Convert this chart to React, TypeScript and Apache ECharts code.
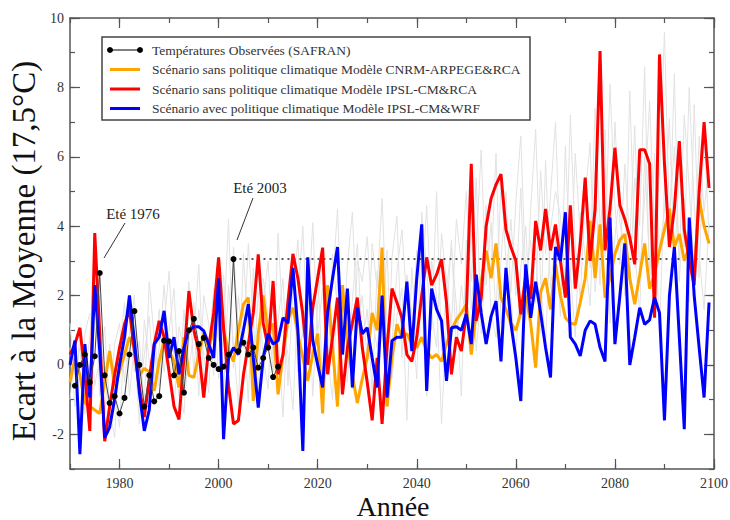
import React, { useEffect, useRef } from "react";
import * as echarts from "echarts";

const START_YEAR = 1970;
const OBS_START = 1971;

const observed = [-0.6, 0.0, 0.3, -0.5, 0.25, 2.65, -0.3, -1.1, -0.9, -1.4, -0.95, 0.3, 1.55, 0.0, -1.2, -0.3, -1.05, -0.9, 0.7, 0.68, -0.3, 0.4, -0.8, 1.0, 1.33, 0.6, 0.78, 0.2, 0.0, -0.12, -0.05, 0.3, 3.05, 0.4, 0.64, 0.3, 0.5, -0.08, 0.2, 0.5, -0.35, -0.05];

const cnrmNoPolicy = [
  -0.5, 0.2, -0.3, -1.1, -1.2, -1.3, -1.4, -0.5, 0.4, -0.6,
  -0.2, 0.3, 0.8, 0.5, -0.3, -0.1, -0.2, -0.75, 0.1, 0.7,
  0.4, 0.1, -0.65, 0.8, -0.3, -0.36, 0.3, 0.9, 0.5, 0.98,
  2.9, 1.0, 0.4, 0.1, 1.0, 1.75, 1.94, -1.04, 0.9, 2.0,
  0.9, 1.2, -0.85, 0.3, 1.3, 1.65, 0.9, 0.2, -0.46, 0.3,
  0.9, -1.4, 2.3, 0.5, -1.2, 2.3, 0.6, -0.3, -1.1, -0.4,
  0.2, 1.5, 1.0, 3.38, -1.2, 0.2, 1.17, 0.8, 0.9, 0.6,
  0.5, 0.8, 0.4, 0.2, 0.3, 0.1, 0.6, 1.0, 1.3, 1.5,
  1.75, 0.3, 1.5, 2.4, 3.3, 2.5, 3.5, 1.94, 1.6, 1.2,
  1.0, 1.5, 2.0, 1.2, -0.08, 2.1, 2.5, 1.6, 2.9, 2.0,
  1.36, 1.2, 1.17, 1.8, 2.5, 4.15, 2.5, 4.05, 1.94, 2.5,
  3.2, 3.6, 3.77, 2.5, 1.75, 2.6, 3.5, 2.2, 2.6, 3.3,
  3.9, 4.5, 3.4, 3.77, 3.0, 3.4, 2.6, 4.8, 4.0, 3.5,
];

const ipslRcaNoPolicy = [
  0.3, 0.6, 1.07, -0.27, -1.9, 3.8, 0.9, -2.2, -1.2, -0.3,
  0.5, 1.17, 1.6, 0.4, -0.65, -1.5, -0.4, 0.6, 1.27, 0.8,
  -0.2, -1.2, -1.57, 0.2, 2.13, 1.0, 0.4, -0.94, 0.5, 1.5,
  3.1, 1.07, -0.6, -1.7, -1.6, -0.3, 0.6, 1.5, 3.19, 1.2,
  0.5, 2.42, -0.27, 0.3, 1.84, 3.2, 2.5, 1.46, 0.0, 1.65,
  2.5, 3.38, -0.27, 0.8, 1.94, -0.85, 0.5, 1.2, 1.94, 0.5,
  -0.5, -1.6, 0.2, -1.7, 0.5, 2.2, 1.8, 1.36, 0.3, 0.1,
  0.8, 2.0, 3.1, 2.3, 2.6, 3.05, 1.8, -0.27, 0.8, 0.4,
  1.5, 5.8, 1.27, 1.9, 4.0, 4.8, 5.2, 5.5, 3.9, 3.4,
  3.0, 1.46, 2.6, 1.9, 4.15, 3.3, 4.5, 3.3, 4.05, 3.0,
  1.94, 4.6, 2.2, 3.5, 5.4, 3.0, 4.5, 9.05, 3.3, 4.5,
  6.26, 4.6, 4.2, 3.67, 2.9, 6.2, 6.2, 5.8, 1.36, 8.95,
  5.8, 3.4, 4.5, 6.45, 3.9, 3.0, 2.3, 5.0, 7.0, 5.1,
];

const ipslWrfPolicy = [
  0.0, 0.7, -2.57, 0.6, -0.94, 2.3, 0.4, -2.1, -1.8, -1.0,
  0.0, 0.8, 2.0, 0.7, -0.8, -1.9, -1.3, 0.6, 0.8, 1.56,
  0.2, 0.8, -0.27, 0.5, 1.0, 1.1, 1.1, 0.98, 0.6, 0.2,
  2.5, -2.14, 0.2, 0.5, 0.3, 1.0, 1.75, 0.2, -1.23, 0.2,
  0.9, 0.6, 0.7, 1.36, 1.2, 2.8, 1.0, -2.48, 3.1, 0.7,
  0.0, -0.65, 1.5, 2.5, 3.4, 0.3, 2.2, -0.65, 1.65, 0.9,
  1.07, 0.2, -0.65, 2.0, -0.94, 0.7, 0.8, 0.8, 2.4, 0.4,
  2.5, 4.05, -0.75, 2.2, 1.6, 1.27, -0.46, 1.07, 1.1, 1.0,
  1.46, 0.6, 2.6, 1.5, 0.6, 1.4, 1.84, 0.1, 2.8, 1.2,
  0.2, -1.04, 2.9, 1.36, 2.4, 1.5, 0.5, -0.36, 3.4, 3.0,
  4.4, 0.8, 0.6, 0.26, 1.0, 1.27, 1.17, 0.5, 0.1, 4.25,
  0.6, 2.0, 3.5, 0.0, 0.8, 1.65, 1.17, 1.3, 1.94, 1.5,
  -1.6, 2.0, 3.4, 0.8, -1.85, 4.25, 2.0, 0.5, -0.94, 1.8,
];

const ensembleA = [
  0.5, -1.2, 1.0, -0.4, 0.8, 2.2, -0.9, 0.1, -1.6, 0.6,
  1.2, -0.5, 0.9, 2.0, -1.0, 0.3, 1.4, -0.7, 0.5, 2.3,
  0.0, -1.3, 1.1, 0.4, 2.4, -0.2, 1.6, 0.3, -0.8, 1.9,
  0.7, 2.6, -0.5, 3.4, 0.9, 1.5, -1.1, 2.8, 0.4, 1.8,
  3.0, 0.2, 1.3, 2.5, -0.6, 2.1, 3.6, 0.8, 1.4, 4.1,
  0.9, 2.2, -0.3, 3.2, 1.6, 0.4, 2.9, 4.4, 1.0, 2.0,
  0.1, 3.5, 2.2, 4.8, 1.2, 0.6, 2.7, 3.9, 1.8, 0.9,
  3.3, 2.1, 4.6, 1.5, 0.5, 3.8, 2.4, 1.1, 4.2, 2.9,
  5.0, 1.6, 3.4, 6.2, 2.3, 4.1, 1.4, 5.3, 3.0, 2.1,
  4.7, 6.6, 2.5, 3.6, 1.8, 5.6, 3.2, 4.9, 7.0, 2.9,
  4.3, 2.4, 6.1, 3.7, 5.2, 2.8, 7.4, 4.0, 3.1, 8.1,
  4.6, 2.9, 5.8, 3.5, 6.9, 2.6, 4.8, 7.6, 3.9, 5.5,
  9.6, 4.2, 6.3, 3.0, 7.2, 5.1, 2.7, 6.6, 4.4, 5.9,
];

const ensembleB = [
  -1.0, 0.4, -2.0, 0.9, 1.5, -0.6, 0.2, 1.1, -1.2, -2.1,
  0.3, 1.8, -0.9, 0.6, -1.7, 1.3, 0.1, -0.4, 1.6, -0.2,
  1.0, 2.2, -0.5, -1.4, 0.7, 1.8, -0.9, 2.0, 1.2, -0.3,
  1.5, -0.8, 2.3, 0.6, -1.2, 3.2, 0.8, -0.4, 2.1, 0.2,
  -0.7, 2.4, 0.9, -1.5, 1.7, 3.0, -0.2, 1.1, 2.6, -0.9,
  1.8, 3.1, 0.3, -1.0, 2.5, 1.2, -0.5, 1.9, 3.5, 0.6,
  1.6, -0.8, 2.7, 1.0, 3.3, -0.4, 1.4, 2.2, -1.6, 2.8,
  0.7, 1.9, -0.9, 3.0, 2.0, -1.7, 1.3, 3.6, 0.5, 2.3,
  1.2, 3.9, 0.4, 2.1, 4.6, 1.5, 0.8, 3.0, 5.0, 1.9,
  0.3, 2.8, 4.0, 1.1, 3.4, 0.9, 5.9, 2.2, 3.6, 1.4,
  6.3, 2.7, 0.8, 4.4, 3.1, 1.7, 5.5, 2.3, 6.8, 1.2,
  3.7, 5.0, 2.0, 7.9, 3.3, 1.5, 6.0, 2.8, 4.5, 0.9,
  5.2, 3.6, 8.4, 2.4, 4.8, 1.8, 7.5, 3.2, 1.6, 4.1,
];

const ensembleC = [
  1.2, -0.3, 0.5, -1.4, 0.0, 1.1, 2.0, -1.5, 0.6, -0.8,
  -1.8, 0.9, 1.5, -0.2, 0.7, -1.1, 2.4, 0.8, -0.6, 1.2,
  2.7, 0.2, -0.9, 1.6, -0.1, 0.9, 2.9, -0.5, 0.4, 2.2,
  -0.4, 1.0, 4.2, -0.1, 2.0, 0.5, 3.5, 1.3, -0.8, 2.5,
  1.4, -0.2, 3.8, 1.1, 0.3, -1.3, 1.9, 4.0, 0.6, 1.7,
  2.8, -0.6, 1.4, 2.3, 4.5, 0.7, 1.9, -0.7, 3.0, 2.4,
  3.7, 1.3, 0.5, 2.0, -0.9, 3.1, 4.3, 0.2, 2.6, 1.5,
  -0.4, 4.4, 2.8, 1.0, 5.0, 0.4, 2.2, 3.4, 1.7, -0.9,
  3.6, 2.4, 5.4, 0.9, 3.2, 2.7, 6.1, 1.2, 2.5, 4.2,
  2.0, 5.1, 1.3, 4.5, 6.8, 2.4, 0.6, 3.9, 5.0, 4.3,
  2.2, 7.2, 3.5, 1.9, 4.9, 6.4, 2.1, 3.8, 5.7, 2.9,
  7.0, 4.1, 3.2, 2.3, 5.4, 4.0, 8.6, 2.2, 6.1, 3.3,
  4.4, 7.1, 2.9, 5.6, 3.4, 8.0, 4.6, 2.5, 6.8, 3.7,
];

const heatwave2003 = { from: 2003, to: 2100, value: 3.05 };

const xMajorTicks = [1980, 2000, 2020, 2040, 2060, 2080, 2100];
const yMajorTicks = [-2, 0, 2, 4, 6, 8, 10];

const legendLabels = [
  "Températures Observées (SAFRAN)",
  "Scénario sans politique climatique Modèle CNRM-ARPEGE&RCA",
  "Scénario sans politique climatique Modèle IPSL-CM&RCA",
  "Scénario avec politique climatique Modèle IPSL-CM&WRF",
];

const SERIF = "Liberation Serif";

function toPairs(values: number[], start: number) {
  return values.map((v, i) => [start + i, v]);
}

export default function App() {
  const ref = useRef<HTMLDivElement>(null);

  useEffect(() => {
    document.body.style.margin = "0";
    if (!ref.current) return;
    const chart = echarts.init(ref.current, undefined, { renderer: "svg" });

    const axisColor = "#555";
    const plain = (v: number) => String(v);
    const baseX = { type: "value", min: 1970, max: 2100, splitLine: { show: false } };
    const baseY = { type: "value", min: -3, max: 10, splitLine: { show: false } };
    const lineOn = { show: true, onZero: false, lineStyle: { color: axisColor, width: 1.5 } };
    const lineOff = { show: false, onZero: false };
    const majorTick = (vals: number[]) => ({
      show: true, inside: true, length: 10, customValues: vals, lineStyle: { color: axisColor, width: 1.2 },
    });
    const minorTick = { show: true, inside: true, length: 5, lineStyle: { color: axisColor, width: 1.2 } };
    const labelStyle = { fontFamily: SERIF, fontSize: 14, color: "#333", formatter: plain };

    const xAxis = [
      { ...baseX, position: "bottom", axisLine: lineOn, axisTick: majorTick(xMajorTicks),
        axisLabel: { show: true, customValues: xMajorTicks, margin: 7, ...labelStyle } },
      { ...baseX, position: "bottom", interval: 10, axisLine: lineOff, axisTick: minorTick, axisLabel: { show: false } },
      { ...baseX, position: "top", axisLine: lineOn, axisTick: majorTick(xMajorTicks), axisLabel: { show: false } },
      { ...baseX, position: "top", interval: 10, axisLine: lineOff, axisTick: minorTick, axisLabel: { show: false } },
    ];

    const yAxis = [
      { ...baseY, position: "left", axisLine: lineOn, axisTick: majorTick(yMajorTicks),
        axisLabel: { show: true, customValues: yMajorTicks, margin: 6, ...labelStyle } },
      { ...baseY, position: "left", interval: 1, axisLine: lineOff, axisTick: minorTick, axisLabel: { show: false } },
      { ...baseY, position: "right", axisLine: lineOn, axisTick: majorTick(yMajorTicks), axisLabel: { show: false } },
      { ...baseY, position: "right", interval: 1, axisLine: lineOff, axisTick: minorTick, axisLabel: { show: false } },
    ];

    const grayLine = (name: string, values: number[]) => ({
      name,
      type: "line",
      data: toPairs(values, START_YEAR),
      symbol: "none",
      silent: true,
      lineStyle: { color: "#e2e2e2", width: 1 },
      z: 1,
    });

    const colorLine = (name: string, values: number[], color: string, z: number) => ({
      name,
      type: "line",
      data: toPairs(values, START_YEAR),
      symbol: "none",
      silent: true,
      lineStyle: { color, width: 3 },
      z,
    });

    const legendRows = [50, 69.5, 89, 108.5];
    const legendColors = ["#000", "#FFA500", "#FF0000", "#0000FF"];
    const legendGraphics: any[] = [
      {
        type: "rect",
        shape: { x: 102, y: 37, width: 428, height: 83 },
        style: { fill: "#fff", stroke: "#444", lineWidth: 1.5 },
        z: 100,
      },
    ];
    legendRows.forEach((y, i) => {
      legendGraphics.push({
        type: "line",
        shape: { x1: 110, y1: y, x2: 140, y2: y },
        style: { stroke: legendColors[i], lineWidth: i === 0 ? 1 : 3 },
        z: 101,
      });
      if (i === 0) {
        legendGraphics.push(
          { type: "circle", shape: { cx: 110, cy: y, r: 3 }, style: { fill: "#000" }, z: 102 },
          { type: "circle", shape: { cx: 140, cy: y, r: 3 }, style: { fill: "#000" }, z: 102 }
        );
      }
      legendGraphics.push({
        type: "text",
        x: 152,
        y,
        style: {
          text: legendLabels[i],
          font: `13.5px '${SERIF}'`,
          fill: "#333",
          textAlign: "left",
          textVerticalAlign: "middle",
        },
        z: 101,
      });
    });

    const option: any = {
      animation: false,
      backgroundColor: "#fff",
      grid: { left: 70, right: 16, top: 18, bottom: 51, outerBoundsMode: "none" },
      xAxis,
      yAxis,
      series: [
        grayLine("Ensemble A", ensembleA),
        grayLine("Ensemble B", ensembleB),
        grayLine("Ensemble C", ensembleC),
        {
          name: "Eté 2003",
          type: "line",
          data: [
            [heatwave2003.from, heatwave2003.value],
            [heatwave2003.to, heatwave2003.value],
          ],
          symbol: "none",
          silent: true,
          lineStyle: { color: "#222", width: 1.5, type: [2, 4] },
          z: 2,
        },
        colorLine(legendLabels[1], cnrmNoPolicy, "#FFA500", 3),
        colorLine(legendLabels[2], ipslRcaNoPolicy, "#FF0000", 4),
        colorLine(legendLabels[3], ipslWrfPolicy, "#0000FF", 5),
        {
          name: legendLabels[0],
          type: "line",
          data: toPairs(observed, OBS_START),
          symbol: "circle",
          symbolSize: 6,
          showSymbol: true,
          silent: true,
          itemStyle: { color: "#000" },
          lineStyle: { color: "#444", width: 1 },
          z: 6,
        },
      ],
      graphic: [
        ...legendGraphics,
        {
          type: "text",
          x: 133,
          y: 214,
          style: { text: "Eté 1976", font: `15px '${SERIF}'`, fill: "#222", textAlign: "center", textVerticalAlign: "middle" },
          z: 50,
        },
        {
          type: "line",
          shape: { x1: 125, y1: 223, x2: 104, y2: 258 },
          style: { stroke: "#333", lineWidth: 1 },
          z: 50,
        },
        {
          type: "text",
          x: 260,
          y: 188,
          style: { text: "Eté 2003", font: `15px '${SERIF}'`, fill: "#222", textAlign: "center", textVerticalAlign: "middle" },
          z: 50,
        },
        {
          type: "line",
          shape: { x1: 253, y1: 198, x2: 237, y2: 240 },
          style: { stroke: "#333", lineWidth: 1 },
          z: 50,
        },
        {
          type: "text",
          x: 24,
          y: 251,
          rotation: Math.PI / 2,
          style: { text: "Ecart à la Moyenne (17,5°C)", font: `33px '${SERIF}'`, fill: "#111", textAlign: "center", textVerticalAlign: "middle" },
          z: 50,
        },
        {
          type: "text",
          x: 393,
          y: 506,
          style: { text: "Année", font: `28px '${SERIF}'`, fill: "#111", textAlign: "center", textVerticalAlign: "middle" },
          z: 50,
        },
      ],
    };

    chart.setOption(option);
    return () => chart.dispose();
  }, []);

  return <div ref={ref} style={{ width: 730, height: 520 }} />;
}
